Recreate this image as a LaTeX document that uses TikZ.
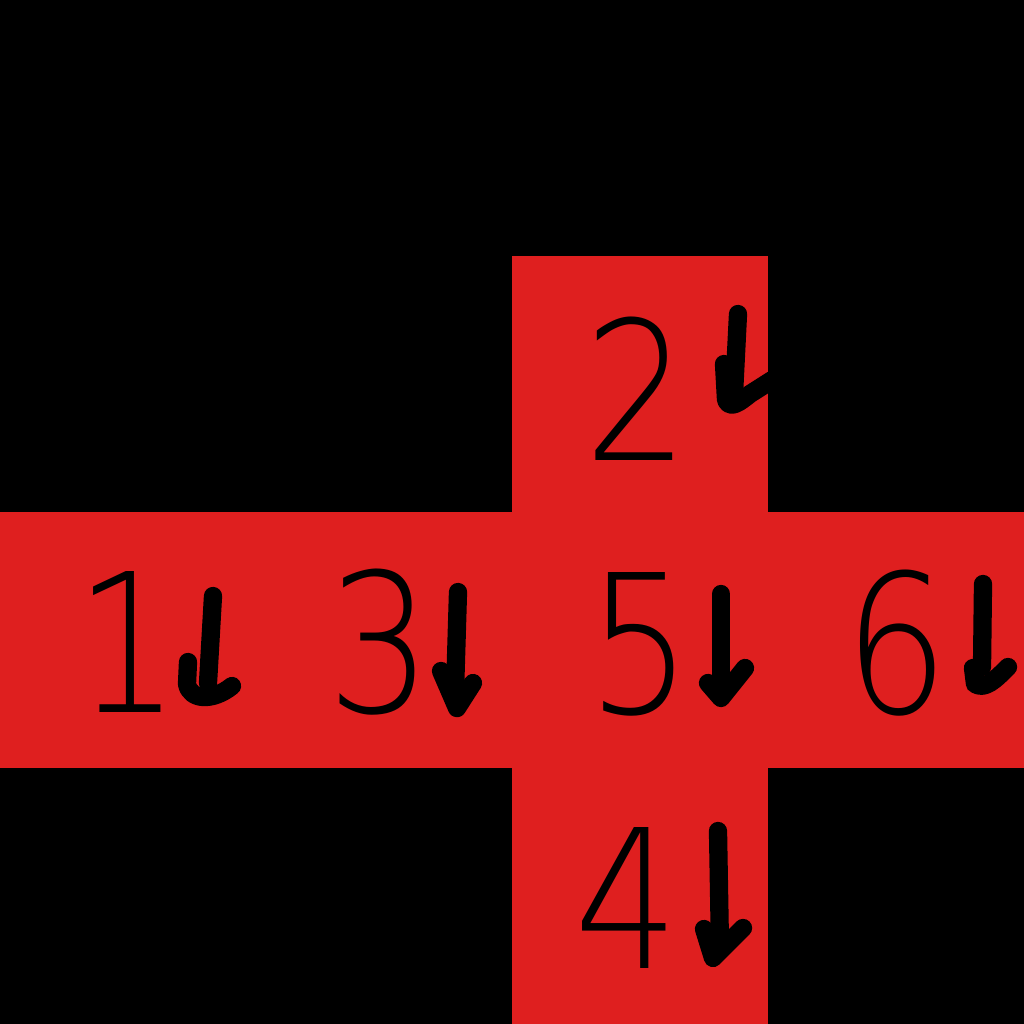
\documentclass[tikz,border=0pt]{standalone}
\usepackage{fontspec}
\setmainfont{DejaVu Sans ExtraLight}
\usetikzlibrary{positioning}
\definecolor{crossred}{RGB}{223,31,31}
\newcommand{\slimdigit}[1]{\scalebox{0.85}[1]{#1}}

\begin{document}
\begin{tikzpicture}[
    x=0.01cm, y=-0.01cm,
    node distance=0pt,
    cell/.style={fill=crossred, draw=none, rectangle, minimum size=2.56cm, inner sep=0pt, outer sep=0pt},
    digit/.style={anchor=base, inner sep=0pt, font=\fontsize{55pt}{60pt}\selectfont},
    stroke/.style={draw=black, line width=5.2pt, line cap=round, line join=round}
]

% black ground
\fill[black] (0,0) rectangle (1024,1024);
\useasboundingbox (0,0) rectangle (1024,1024);

% the cross
\node[cell] (c5) at (640,640) {};
\node[cell, left=of c5] (c3) {};
\node[cell, left=of c3] (c1) {};
\node[cell, right=of c5] (c6) {};
\node[cell, above=of c5] (c2) {};
\node[cell, below=of c5] (c4) {};

% numbers
\node[digit] (n1) at (128,712) {\slimdigit{1}};
\node[digit] (n3) at (380,712) {\slimdigit{3}};
\node[digit] (n5) at (640,713) {\slimdigit{5}};
\node[digit] (n6) at (897,713) {\slimdigit{6}};
\node[digit] (n2) at (637,460) {\slimdigit{2}};
\node[digit] (n4) at (627,968) {\slimdigit{4}};

% hand-drawn arrows
\draw[stroke] (213,596) -- (208,683);
\draw[stroke] (188,662) -- (187,684) .. controls (190,700) and (212,702) .. (232,686);
\draw[stroke] (458,592) -- (455,692);
\draw[stroke] (441,671) -- (457,708) -- (473,683);
\draw[stroke] (721,594) -- (721,690);
\draw[stroke] (708,683) -- (721,698) -- (745,668);
\draw[stroke] (983,584) -- (982,667);
\draw[stroke] (973,668) -- (975,684) .. controls (985,690) and (995,680) .. (1008,667);
\draw[stroke] (738,314) -- (734,394);
\draw[stroke] (724,364) -- (726,400) .. controls (730,410) and (740,402) .. (750,394) -- (772,380);
\draw[stroke] (718,831) -- (720,947);
\draw[stroke] (704,929) -- (713,958) -- (743,928);

\end{tikzpicture}
\end{document}
